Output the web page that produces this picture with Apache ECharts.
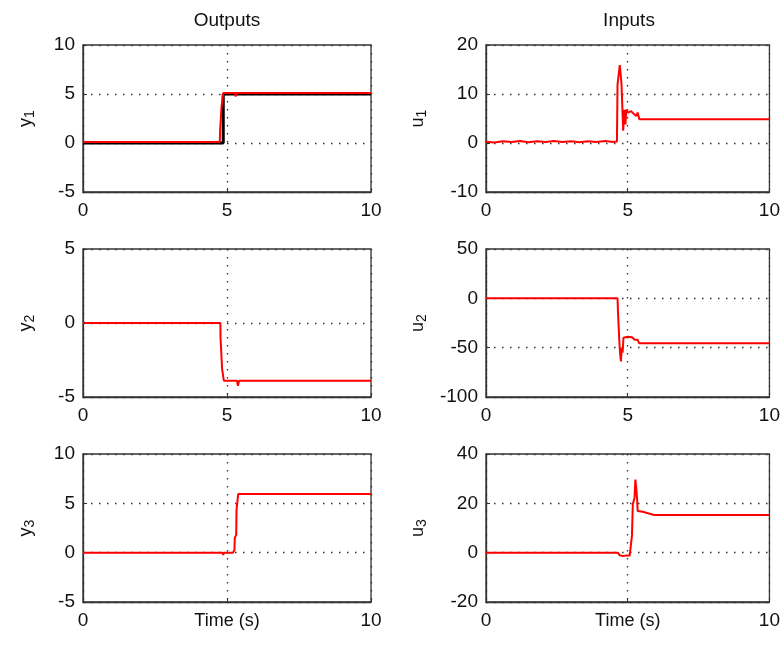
<!DOCTYPE html>
<html><head><meta charset="utf-8">
<script src="https://cdn.jsdelivr.net/npm/echarts@6/dist/echarts.min.js"></script>
<style>html,body{margin:0;padding:0;background:#fff}#c{width:783px;height:664px}</style>
</head><body><div id="c"></div><script>
// ---- text ----
const titleOutputs = 'Outputs';
const titleInputs = 'Inputs';
const timeLabel = 'Time (s)';
const yLetters = ['y', 'y', 'y', 'u', 'u', 'u'];
const ySubs = ['1', '2', '3', '1', '2', '3'];

// ---- axes: [y1, y2, y3, u1, u2, u3] ----
const xTicks = [0, 5, 10];
const yMins = [-5, -5, -5, -10, -100, -20];
const yMaxs = [10, 5, 10, 20, 50, 40];
const ySteps = [5, 5, 5, 10, 50, 20];

// ---- data: [time, value] ----
const y1Ref = [[0, 0], [4.87, 0], [4.87, 5], [10, 5]];
const y1 = [[0, 0.1], [4.75, 0.1], [4.76, 1.2], [4.8, 1.2], [4.81, 3.7], [4.86, 3.7], [4.87, 5.1],
  [5.27, 5.1], [5.3, 4.75], [5.33, 5.1], [10, 5.1]];
const y2 = [[0, 0], [4.77, 0], [4.775, -1], [4.82, -1], [4.83, -3.1], [4.88, -3.1], [4.89, -3.9],
  [5.35, -3.9], [5.38, -4.25], [5.42, -3.9], [10, -3.9]];
const y3 = [[0, 0], [4.85, 0], [4.87, -0.25], [4.89, 0], [5.21, 0], [5.26, 0.3], [5.27, 1.5], [5.32, 1.8],
  [5.33, 4.3], [5.38, 4.5], [5.39, 5.95], [10, 5.95]];
const u1 = [[0, 0.25], [0.3, 0.1], [0.6, 0.35], [0.9, 0.2], [1.2, 0.4], [1.5, 0.15], [1.8, 0.35], [2.1, 0.2],
  [2.4, 0.4], [2.7, 0.2], [3.0, 0.35], [3.3, 0.15], [3.6, 0.35], [3.9, 0.2], [4.2, 0.4], [4.5, 0.2], [4.62, 0.3],
  [4.64, 11.9], [4.70, 12.1], [4.72, 15.9], [4.76, 15.5], [4.78, 12.2], [4.81, 12.0], [4.84, 2.5], [4.88, 6.8],
  [4.92, 3.8], [4.95, 6.8], [5.01, 6.2], [5.07, 6.6], [5.12, 6.5], [5.2, 6.0], [5.26, 6.1], [5.3, 5.5],
  [5.35, 6.2], [5.41, 4.83], [10, 4.83]];
const u2 = [[0, 0], [4.64, 0], [4.66, -16], [4.70, -17], [4.71, -47], [4.74, -58], [4.76, -64], [4.79, -50],
  [4.82, -55], [4.85, -40], [4.88, -38], [5.0, -39], [5.15, -39.5], [5.25, -42], [5.3, -44], [5.35, -42],
  [5.4, -45.5], [10, -45.5]];
const u3 = [[0, 0], [4.66, 0], [4.72, -1.1], [4.78, -0.4], [4.84, -1.4], [4.89, -0.6], [4.95, -1.1], [5.01, -1.7],
  [5.07, -1.1], [5.12, -0.4], [5.15, 6.9], [5.18, 19.6], [5.24, 22.3], [5.27, 29.6], [5.30, 26.3], [5.33, 22.0],
  [5.35, 16.9], [5.41, 16.3], [5.53, 16.6], [5.59, 15.9], [5.93, 15.3], [10, 15.3]];

const redSeries = [y1, y2, y3, u1, u2, u3];

// ---- layout ----
const FONT = 'Liberation Sans, Arial, sans-serif';
const colLeft = [83, 486];
const colWidth = [288, 287];
const rowTop = [45, 249, 454];
const rowHeight = [147, 148, 148];

const grids = [], xAxes = [], yAxes = [], series = [];
for (let i = 0; i < 6; i++) {
  const col = i < 3 ? 0 : 1, row = i % 3;
  grids.push({
    left: colLeft[col], top: rowTop[row], width: colWidth[col], height: rowHeight[row],
    show: true, borderColor: '#333', borderWidth: 1.3, backgroundColor: '#fff'
  });
  const dotted = { show: true, lineStyle: { type: [1.5, 6.5], color: '#333', width: 1.3 } };
  xAxes.push({
    gridIndex: i, type: 'value', min: xTicks[0], max: xTicks[xTicks.length - 1], interval: xTicks[1] - xTicks[0],
    axisLine: { show: true, onZero: false, lineStyle: { color: '#333', width: 1.3 } },
    axisTick: { show: true, inside: true, length: 4, lineStyle: { color: '#333' } },
    axisLabel: {
      fontSize: 19, fontFamily: FONT, color: '#111', margin: 9,
      formatter: v => (row === 2 && v === 5) ? '' : String(v)
    },
    splitLine: dotted,
    name: row === 2 ? timeLabel : '', nameLocation: 'middle', nameGap: 10, nameMoveOverlap: false,
    nameTextStyle: { fontSize: 18, fontFamily: FONT, color: '#111', verticalAlign: 'top' }
  });
  yAxes.push({
    gridIndex: i, type: 'value', min: yMins[i], max: yMaxs[i], interval: ySteps[i],
    axisLine: { show: true, onZero: false, lineStyle: { color: '#333', width: 1.3 } },
    axisTick: { show: true, inside: true, length: 4, lineStyle: { color: '#333' } },
    axisLabel: { fontSize: 19, fontFamily: FONT, color: '#111', margin: 8 },
    splitLine: dotted,
    name: '{a|' + yLetters[i] + '}{b|' + ySubs[i] + '}',
    nameLocation: 'middle', nameRotate: 90, nameGap: col === 0 ? 46 : 57, nameMoveOverlap: false,
    nameTextStyle: {
      color: '#111',
      rich: {
        a: { fontSize: 18, fontFamily: FONT, color: '#111', verticalAlign: 'top', lineHeight: 20 },
        b: { fontSize: 14, fontFamily: FONT, color: '#111', verticalAlign: 'bottom', lineHeight: 15, padding: [11, 0, 0, 0] }
      }
    }
  });
  if (i === 0) {
    series.push({
      type: 'line', xAxisIndex: i, yAxisIndex: i, data: y1Ref, showSymbol: false, symbol: 'none',
      lineStyle: { color: '#000', width: 3 }, silent: true
    });
  }
  series.push({
    type: 'line', xAxisIndex: i, yAxisIndex: i, data: redSeries[i], showSymbol: false, symbol: 'none',
    lineStyle: { color: '#ff0000', width: 2 }, silent: true
  });
}

const chart = echarts.init(document.getElementById('c'), null, { renderer: 'canvas' });
chart.setOption({
  animation: false,
  backgroundColor: '#fff',
  grid: grids, xAxis: xAxes, yAxis: yAxes, series: series,
  graphic: [
    { type: 'text', x: 227, y: 21, style: { text: titleOutputs, align: 'center', verticalAlign: 'middle', fontSize: 19, fontFamily: FONT, fill: '#111' } },
    { type: 'text', x: 629, y: 21, style: { text: titleInputs, align: 'center', verticalAlign: 'middle', fontSize: 19, fontFamily: FONT, fill: '#111' } }
  ]
});
</script></body></html>
